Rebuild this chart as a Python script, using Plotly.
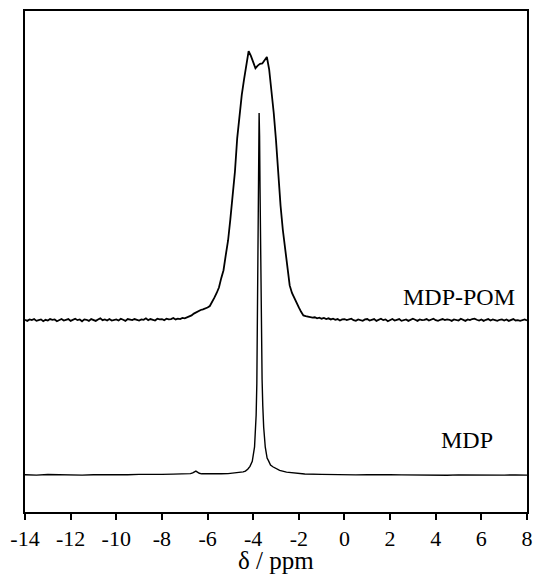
import numpy as np
import plotly.graph_objects as go

# ---------------- data ----------------
# MDP-POM spectrum, sampled every 0.1 ppm from -14.0 to 8.0 (raw intensity, baseline ~0)
pom_ppm = np.round(np.arange(-14.0, 8.0001, 0.1), 2)
pom_left_base = [
    0.1, -0.2, 0.2, 0.0, 0.3, -0.2, 0.0, 0.2, -0.3, 0.1,
    -0.1, 0.3, 0.1, 0.2, -0.3, 0.0, 0.3, -0.1, 0.1, 0.3,
    -0.2, 0.1, 0.4, 0.0, 0.2, -0.3, 0.2, 0.1, -0.2, 0.3,
    0.1, -0.2, 0.2, 0.5, 0.0, 0.2, -0.1, 0.3, -0.1, 0.1,
    0.2, -0.1, 0.4, 0.1, -0.2, 0.3, 0.1, 0.0, 0.3, 0.1,
    -0.1, 0.2, 0.1, 0.5, 0.0, 0.3, 0.1, -0.1, 0.4, 0.2,
    0.3, 0.0, 0.4, 0.2, 0.3, 0.6, 0.2, 0.4, 0.3, 0.6,
    0.5,
]
pom_peak = [
    0.7, 1.0, 1.3, 1.8, 2.2, 2.5, 2.8, 3.0, 3.2, 3.5,
    3.9, 4.9, 6.2, 7.5, 9.0, 11.6, 13.8, 18.0, 22.0, 27.9,
    34.7, 41.0, 50.3, 57.4, 62.2, 66.5, 70.5, 74.3, 73.0, 71.2,
    69.6, 70.3, 70.8, 70.9, 72.0, 72.7, 69.3, 64.0, 57.3, 49.7,
    39.3, 31.6, 24.9, 19.3, 14.3, 9.6, 7.5, 6.0, 4.7, 3.5,
    2.3, 1.3, 1.1, 0.9, 0.8, 0.7,
]
pom_right_base = [
    0.8, 0.5, 0.7, 0.4, 0.6, 0.3, 0.5, 0.2, 0.4, 0.1,
    0.3, -0.1, 0.2, 0.3, 0.0, 0.1, 0.4, 0.0, -0.2, 0.2,
    0.1, -0.2, 0.2, 0.3, -0.1, 0.0, 0.3, -0.2, 0.1, 0.4,
    0.0, 0.2, -0.3, 0.1, 0.3, -0.1, 0.1, 0.3, -0.2, 0.0,
    0.2, -0.2, 0.1, 0.4, 0.1, -0.2, 0.2, 0.0, 0.1, 0.3,
    -0.1, 0.2, 0.4, 0.0, -0.2, 0.1, 0.3, 0.0, 0.2, 0.1,
    -0.2, 0.2, 0.1, -0.1, 0.4, 0.1, -0.2, 0.2, 0.0, 0.3,
    0.4, 0.1, -0.1, 0.2, -0.2, 0.1, 0.3, -0.1, 0.2, 0.0,
    -0.2, 0.1, 0.2, -0.1, 0.2, -0.2, 0.1, 0.3, -0.1, 0.0,
    -0.2, 0.1, 0.2, -0.1,
]
pom_intensity = pom_left_base + pom_peak + pom_right_base

# MDP spectrum (raw intensity, peak normalised to 100)
mdp_ppm = [
    -14.0, -13.5, -13.0, -12.5, -12.0, -11.5, -11.0, -10.5, -10.0, -9.5,
    -9.0, -8.5, -8.0, -7.5, -7.0, -6.9, -6.75, -6.65, -6.56, -6.51,
    -6.46, -6.36, -6.26, -6.0, -5.7, -5.4, -5.1, -4.9, -4.7, -4.6,
    -4.44, -4.34, -4.24, -4.14, -4.04, -3.94, -3.87, -3.84, -3.80, -3.78,
    -3.76, -3.74, -3.72, -3.70, -3.68, -3.66, -3.64, -3.61, -3.58, -3.54,
    -3.47, -3.39, -3.33, -3.24, -3.14, -3.00, -2.84, -2.54, -2.14, -1.74,
    -1.0, -0.5, 0.0, 0.5, 1.0, 1.5, 2.0, 2.5, 3.0, 3.5,
    4.0, 4.5, 5.0, 5.5, 6.0, 6.5, 7.0, 7.5, 8.0,
]
mdp_intensity = [
    0.1, 0.0, 0.15, 0.05, 0.1, 0.0, 0.1, 0.05, 0.15, 0.1,
    0.2, 0.1, 0.2, 0.25, 0.3, 0.3, 0.4, 0.6, 0.9, 1.1,
    0.9, 0.5, 0.35, 0.3, 0.3, 0.35, 0.4, 0.5, 0.6, 0.7,
    0.9, 1.1, 1.6, 2.4, 3.8, 7.8, 16.6, 25.2, 48.3, 67.8,
    89.4, 100.0, 93.8, 79.2, 62.8, 48.7, 37.8, 26.5, 19.2, 13.2,
    7.7, 4.7, 4.0, 2.8, 2.3, 1.9, 1.3, 0.8, 0.5, 0.3,
    0.2, 0.1, 0.15, 0.05, 0.1, 0.0, 0.1, 0.05, 0.0, 0.1,
    0.05, -0.05, 0.05, 0.0, 0.05, -0.05, 0.0, 0.05, 0.0,
]

series_names = ["MDP-POM", "MDP"]
pom_offset = 42.8          # vertical stacking offset of the MDP-POM trace
x_ticks = [-14, -12, -10, -8, -6, -4, -2, 0, 2, 4, 6, 8]
x_title = "δ / ppm"

# ---------------- figure ----------------
FONT = "Liberation Serif, Times New Roman, serif"

fig = go.Figure()
fig.add_trace(go.Scatter(
    x=pom_ppm, y=np.array(pom_intensity) + pom_offset, mode="lines",
    line=dict(color="black", width=1.8), name=series_names[0], showlegend=False,
))
fig.add_trace(go.Scatter(
    x=mdp_ppm, y=mdp_intensity, mode="lines",
    line=dict(color="black", width=1.4), name=series_names[1], showlegend=False,
))

fig.add_annotation(x=5.04, y=49.2, xref="x", yref="y", text=series_names[0],
                   showarrow=False, font=dict(family=FONT, size=24, color="black"))
fig.add_annotation(x=5.35, y=9.7, xref="x", yref="y", text=series_names[1],
                   showarrow=False, font=dict(family=FONT, size=24, color="black"))
# axis title placed as a paper-anchored annotation below the tick labels
fig.add_annotation(x=0.5, y=-0.097, xref="paper", yref="paper", text=x_title,
                   showarrow=False, xanchor="center", yanchor="middle",
                   font=dict(family=FONT, size=25, color="black"))

fig.update_layout(
    width=533, height=575,
    margin=dict(l=25, r=6, t=11, b=63, autoexpand=False),
    paper_bgcolor="white", plot_bgcolor="white",
    font=dict(family=FONT, color="black"),
    xaxis=dict(
        range=[-14, 8], tickvals=x_ticks, ticktext=[str(v) for v in x_ticks],
        ticks="outside", ticklen=6, tickwidth=1.5, tickcolor="black",
        showline=True, linecolor="black", linewidth=1.8, mirror=True,
        showgrid=False, zeroline=False, automargin=False,
        ticklabeloverflow="allow",
        tickfont=dict(family=FONT, size=22, color="black"),
    ),
    yaxis=dict(
        range=[-10.2, 128.2], showticklabels=False, ticks="",
        showline=True, linecolor="black", linewidth=1.8, mirror=True,
        showgrid=False, zeroline=False, automargin=False,
    ),
)

# remove the default page margin so the figure fills the window exactly
fig.write_html(
    "out.html",
    config={"displayModeBar": False},
    post_script="document.body.style.margin='0';document.body.style.overflow='hidden';",
)
